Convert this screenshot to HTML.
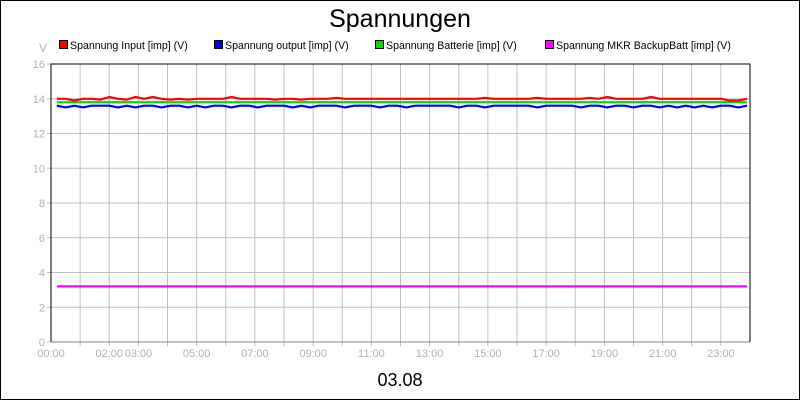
<!DOCTYPE html>
<html><head><meta charset="utf-8"><style>
body{margin:0;background:#fff}
svg{display:block;font-family:"Liberation Sans",sans-serif}
</style></head><body>
<svg id="c" width="800" height="400" xmlns="http://www.w3.org/2000/svg">
<rect x="0.5" y="0.5" width="799" height="399" fill="#fff" stroke="#000"/>
<text x="400" y="27" font-size="25" text-anchor="middle">Spannungen</text>
<text x="43" y="52" font-size="12" fill="#b0b0b0" text-anchor="middle">V</text>
<text x="400" y="386" font-size="18" text-anchor="middle">03.08</text>
<g id="grid"></g><g id="axes"></g><g id="series"></g><g id="legend"></g>
</svg>
<script>
const yTicks=[0,2,4,6,8,10,12,14,16];
const xTickLabels=["00:00","02:00","03:00","05:00","07:00","09:00","11:00","13:00","15:00","17:00","19:00","21:00","23:00"];
const xTickHours=[0,2,3,5,7,9,11,13,15,17,19,21,23];
const seriesNames=["Spannung Input [imp] (V)","Spannung output [imp] (V)","Spannung Batterie [imp] (V)","Spannung MKR BackupBatt [imp] (V)"];
const seriesColors=["#ff0000","#0000ff","#00dd00","#ff00ff"];
const times=[0.2,0.5,0.8,1.1,1.4,1.7,2.0,2.3,2.6,2.9,3.2,3.5,3.8,4.1,4.4,4.7,5.0,5.3,5.6,5.9,6.2,6.5,6.8,7.1,7.4,7.7,8.0,8.3,8.6,8.9,9.2,9.5,9.8,10.1,10.4,10.7,11.0,11.3,11.6,11.9,12.2,12.5,12.8,13.1,13.4,13.7,14.0,14.3,14.6,14.9,15.2,15.5,15.8,16.1,16.4,16.7,17.0,17.3,17.6,17.9,18.2,18.5,18.8,19.1,19.4,19.7,20.0,20.3,20.6,20.9,21.2,21.5,21.8,22.1,22.4,22.7,23.0,23.3,23.6,23.9];
const inputV=[14.0,14.0,13.9,14.0,14.0,13.95,14.1,14.0,13.95,14.1,14.0,14.1,14.0,13.95,14.0,13.95,14.0,14.0,14.0,14.0,14.1,14.0,14.0,14.0,14.0,13.95,14.0,14.0,13.95,14.0,14.0,14.0,14.05,14.0,14.0,14.0,14.0,14.0,14.0,14.0,14.0,14.0,14.0,14.0,14.0,14.0,14.0,14.0,14.0,14.05,14.0,14.0,14.0,14.0,14.0,14.05,14.0,14.0,14.0,14.0,14.0,14.05,14.0,14.1,14.0,14.0,14.0,14.0,14.1,14.0,14.0,14.0,14.0,14.0,14.0,14.0,14.0,13.9,13.9,14.0];
const outputV=[13.6,13.5,13.6,13.5,13.6,13.6,13.6,13.5,13.6,13.5,13.6,13.6,13.5,13.6,13.6,13.5,13.6,13.5,13.6,13.6,13.5,13.6,13.6,13.5,13.6,13.6,13.6,13.5,13.6,13.5,13.6,13.6,13.6,13.5,13.6,13.6,13.6,13.5,13.6,13.6,13.5,13.6,13.6,13.6,13.6,13.6,13.5,13.6,13.6,13.5,13.6,13.6,13.6,13.6,13.6,13.5,13.6,13.6,13.6,13.6,13.5,13.6,13.6,13.5,13.6,13.6,13.5,13.6,13.6,13.5,13.6,13.5,13.6,13.5,13.6,13.5,13.6,13.6,13.5,13.6];
const batteryV=times.map(()=>13.8);
const backupV=times.map(()=>3.2);
const allSeries=[inputV,outputV,batteryV,backupV];
const X0=51,X1=750,Y0=342,Y1=64;
const xs=h=>X0+(X1-X0)*h/24;
const ys=v=>Y0-(Y0-Y1)*v/16;
const NS="http://www.w3.org/2000/svg";
function mk(tag,attrs,parent){const e=document.createElementNS(NS,tag);for(const k in attrs)e.setAttribute(k,attrs[k]);parent.appendChild(e);return e;}
const grid=document.getElementById('grid'),axes=document.getElementById('axes'),ser=document.getElementById('series'),leg=document.getElementById('legend');
for(let h=1;h<24;h++){const l=mk('line',{x1:xs(h),x2:xs(h),y1:Y1,y2:Y0+4,stroke:'#c0c0c0'},grid);

}
yTicks.forEach(v=>{const l=mk('line',{x1:X0-4,x2:X1,y1:ys(v),y2:ys(v),stroke:'#c0c0c0'},grid);


const t=mk('text',{x:X0-6,y:ys(v)+4,'font-size':11,fill:'#b0b0b0','text-anchor':'end'},axes);t.textContent=v;

});
xTickHours.forEach((h,i)=>{const t=mk('text',{x:xs(h),y:Y0+15,'font-size':11,fill:'#b0b0b0','text-anchor':'middle'},axes);t.textContent=xTickLabels[i];

});
const fr=mk('path',{d:`M${X0},${Y0}V${Y1}H${X1}V${Y0}`,fill:'none',stroke:'#000'},axes);


const bx=mk('line',{x1:X0,x2:X1,y1:Y0,y2:Y0,stroke:'#808080'},axes);


[3,2,1,0].forEach(i=>{const d=allSeries[i].map((v,j)=>(j?'L':'M')+xs(times[j]).toFixed(1)+','+ys(v).toFixed(1)).join('');
const p=mk('path',{d:d,fill:'none',stroke:seriesColors[i],'stroke-width':2.2,'stroke-linejoin':'round'},ser);

});
const lx=[59,214,375,545];
seriesNames.forEach((n,i)=>{const g=mk('g',{},leg);


mk('rect',{x:lx[i]+0.5,y:40.5,width:8,height:8,fill:seriesColors[i],stroke:'#000'},g);
const t=mk('text',{x:lx[i]+11,y:49,'font-size':10.6},g);t.textContent=n;});
</script>
</body></html>
